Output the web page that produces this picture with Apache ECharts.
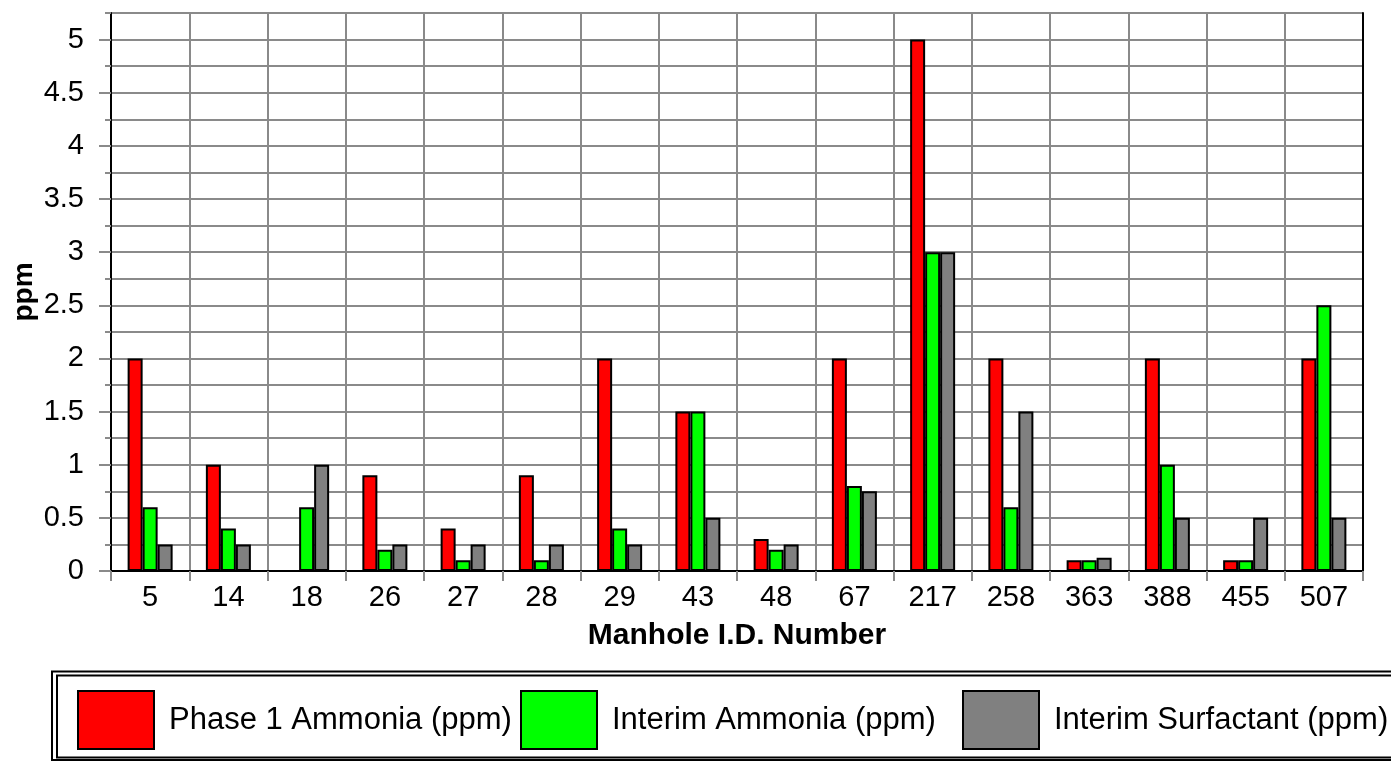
<!DOCTYPE html>
<html>
<head>
<meta charset="utf-8">
<script src="https://cdn.jsdelivr.net/npm/echarts@6/dist/echarts.min.js"></script>
<style>
html,body{margin:0;padding:0;background:#fff;}
#chart{width:1391px;height:762px;}
</style>
</head>
<body>
<div id="chart"></div>
<script>
const categories = ['5','14','18','26','27','28','29','43','48','67','217','258','363','388','455','507'];
const phase1Ammonia = [2, 1, null, 0.9, 0.4, 0.9, 2, 1.5, 0.3, 2, 5, 2, 0.1, 2, 0.1, 2];
const interimAmmonia = [0.6, 0.4, 0.6, 0.2, 0.1, 0.1, 0.4, 1.5, 0.2, 0.8, 3, 0.6, 0.1, 1, 0.1, 2.5];
const interimSurfactant = [0.25, 0.25, 1, 0.25, 0.25, 0.25, 0.25, 0.5, 0.25, 0.75, 3, 1.5, 0.125, 0.5, 0.5, 0.5];
const yTickLabels = [0, 0.5, 1, 1.5, 2, 2.5, 3, 3.5, 4, 4.5, 5];
const seriesNames = ['Phase 1 Ammonia (ppm)', 'Interim Ammonia (ppm)', 'Interim Surfactant (ppm)'];

const FONT = '"Liberation Sans", Arial, Helvetica, sans-serif';
const GRID_COLOR = '#8a8a8a';
const colors = ['#ff0000', '#00ff00', '#808080'];
const values = [phase1Ammonia, interimAmmonia, interimSurfactant];

const chart = echarts.init(document.getElementById('chart'), null, {renderer: 'canvas'});

function mkLegend(i, left) {
  return {
    data: [seriesNames[i]],
    left: left,
    top: 690,
    padding: 0,
    orient: 'horizontal',
    itemWidth: 76,
    itemHeight: 58,
    icon: 'rect',
    itemStyle: {borderColor: '#000', borderWidth: 2},
    textStyle: {fontFamily: FONT, fontSize: 31, color: '#000', padding: [0, 0, 0, 10]},
    selectedMode: false
  };
}

const option = {
  backgroundColor: '#fff',
  animation: false,
  textStyle: {fontFamily: FONT},
  grid: {left: 111, right: 28, top: 13, bottom: 191, containLabel: false},
  legend: [mkLegend(0, 77), mkLegend(1, 520), mkLegend(2, 962)],
  graphic: [
    {type: 'rect', shape: {x: 52, y: 671.5, width: 1400, height: 88.5}, style: {fill: 'none', stroke: '#000', lineWidth: 2}, silent: true},
    {type: 'rect', shape: {x: 57, y: 675.5, width: 1390, height: 82}, style: {fill: 'none', stroke: '#000', lineWidth: 2}, silent: true}
  ],
  xAxis: {
    type: 'category',
    data: categories,
    boundaryGap: true,
    name: 'Manhole I.D. Number',
    nameLocation: 'middle',
    nameGap: 50,
    nameTextStyle: {fontFamily: FONT, fontSize: 30, fontWeight: 'bold', color: '#000'},
    axisLine: {show: true, lineStyle: {color: '#000', width: 2}},
    axisTick: {show: true, length: 10, alignWithLabel: false, lineStyle: {color: GRID_COLOR, width: 2}},
    axisLabel: {fontFamily: FONT, fontSize: 29, color: '#000', margin: 12, interval: 0},
    splitLine: {show: true, interval: 0, lineStyle: {color: GRID_COLOR, width: 2}}
  },
  yAxis: [
    {
      type: 'value',
      min: 0,
      max: 5.25,
      interval: 0.25,
      position: 'left',
      name: 'ppm',
      nameLocation: 'middle',
      nameGap: 73,
      nameRotate: 90,
      nameTextStyle: {fontFamily: FONT, fontSize: 28, fontWeight: 'bold', color: '#000'},
      axisLine: {show: true, lineStyle: {color: '#000', width: 2}},
      axisTick: {show: true, length: 6, lineStyle: {color: GRID_COLOR, width: 2}},
      axisLabel: {show: false},
      splitLine: {show: true, lineStyle: {color: GRID_COLOR, width: 2}}
    },
    {
      type: 'value',
      min: 0,
      max: 5.25,
      position: 'left',
      axisLine: {show: false},
      axisTick: {show: true, length: 12, customValues: yTickLabels, lineStyle: {color: GRID_COLOR, width: 2}},
      axisLabel: {show: true, customValues: yTickLabels, fontFamily: FONT, fontSize: 29, color: '#000', margin: 27},
      splitLine: {show: false}
    },
    {
      type: 'value',
      min: 0,
      max: 5.25,
      position: 'right',
      axisLine: {show: true, lineStyle: {color: '#000', width: 2}},
      axisTick: {show: false},
      axisLabel: {show: false},
      splitLine: {show: false}
    }
  ],
  series: values.map((v, i) => ({
    name: seriesNames[i],
    type: 'bar',
    data: v,
    yAxisIndex: 0,
    barWidth: 15,
    barGap: '0%',
    itemStyle: {color: colors[i], borderColor: '#000', borderWidth: 2}
  }))
};

chart.setOption(option);
</script>
</body>
</html>
